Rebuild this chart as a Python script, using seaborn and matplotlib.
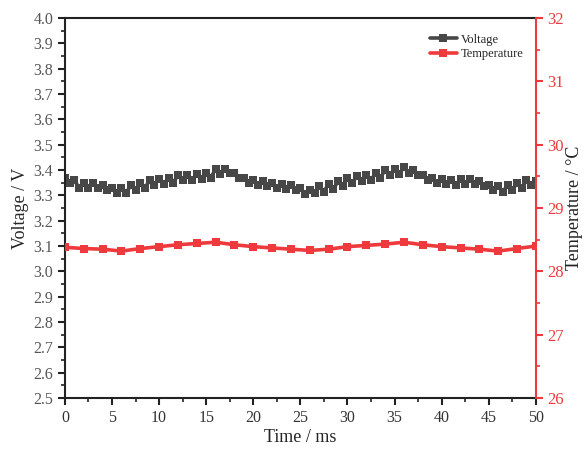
import numpy as np
import pandas as pd
import matplotlib
matplotlib.use("Agg")
import matplotlib.pyplot as plt
import seaborn as sns
from matplotlib.ticker import MultipleLocator

# Voltage sampled every 0.5 ms (0 .. 50 ms)
voltage_time = [i * 0.5 for i in range(101)]
voltage = [
    3.37, 3.35, 3.36, 3.33, 3.35, 3.33, 3.35, 3.33, 3.34, 3.32,
    3.33, 3.31, 3.33, 3.31, 3.34, 3.32, 3.35, 3.33, 3.36, 3.34,
    3.365, 3.345, 3.37, 3.35, 3.38, 3.36, 3.38, 3.36, 3.385, 3.365,
    3.39, 3.37, 3.405, 3.385, 3.405, 3.39, 3.39, 3.37, 3.37, 3.35,
    3.36, 3.34, 3.355, 3.335, 3.35, 3.33, 3.345, 3.325, 3.34, 3.32,
    3.33, 3.305, 3.32, 3.31, 3.335, 3.315, 3.345, 3.325, 3.355, 3.335,
    3.37, 3.35, 3.375, 3.355, 3.38, 3.36, 3.39, 3.37, 3.40, 3.38,
    3.405, 3.385, 3.41, 3.39, 3.40, 3.38, 3.38, 3.36, 3.37, 3.35,
    3.365, 3.345, 3.36, 3.34, 3.365, 3.345, 3.365, 3.345, 3.355, 3.335,
    3.34, 3.32, 3.335, 3.315, 3.34, 3.32, 3.35, 3.33, 3.36, 3.34,
    3.355,
]

# Temperature sampled every 2 ms
temp_time = list(range(0, 51, 2))
temperature = [
    28.38, 28.36, 28.35, 28.32, 28.36, 28.39, 28.42, 28.44, 28.46, 28.42,
    28.39, 28.37, 28.35, 28.33, 28.35, 28.39, 28.41, 28.43, 28.46, 28.42,
    28.39, 28.37, 28.35, 28.32, 28.36, 28.40,
]

v_df = pd.DataFrame({"time": voltage_time, "voltage": voltage})
t_df = pd.DataFrame({"time": temp_time, "temperature": temperature})

sns.set_theme(style="ticks")
plt.rcParams["font.family"] = ["Liberation Serif", "DejaVu Serif"]

dark = "#474747"
red = "#ee3a3c"

fig = plt.figure(figsize=(5.85, 4.51), dpi=100)
ax = fig.add_axes([0.111, 0.1175, 0.805, 0.8425])
ax2 = ax.twinx()

sns.lineplot(data=v_df, x="time", y="voltage", ax=ax, color=dark, lw=2.6,
             marker="s", markersize=5.5, markeredgewidth=0, label="Voltage",
             legend=False)
sns.lineplot(data=t_df, x="time", y="temperature", ax=ax2, color=red, lw=2.6,
             marker="s", markersize=6, markeredgewidth=0, label="Temperature",
             legend=False)

ax.set_xlim(0, 50)
ax.set_ylim(2.5, 4.0)
ax2.set_ylim(26, 32)

ax.xaxis.set_major_locator(MultipleLocator(5))
ax.xaxis.set_minor_locator(MultipleLocator(2.5))
ax.yaxis.set_major_locator(MultipleLocator(0.1))
ax.yaxis.set_minor_locator(MultipleLocator(0.05))
ax2.yaxis.set_major_locator(MultipleLocator(1))
ax2.yaxis.set_minor_locator(MultipleLocator(0.5))
ax.yaxis.set_major_formatter(matplotlib.ticker.FormatStrFormatter("%.1f"))

ax.set_xlabel("Time / ms", fontsize=13, labelpad=2)
ax.set_ylabel("Voltage / V", fontsize=13, labelpad=3)
ax2.set_ylabel("Temperature / °C", fontsize=13, labelpad=2)

for s in ["left", "bottom", "top"]:
    ax.spines[s].set_color("#222222")
    ax.spines[s].set_linewidth(1.5)
ax.spines["right"].set_visible(False)
for s in ["left", "bottom", "top"]:
    ax2.spines[s].set_visible(False)
ax2.spines["right"].set_color(red)
ax2.spines["right"].set_linewidth(1.5)

ax.tick_params(axis="both", which="major", direction="out", length=5, width=1.5,
               labelsize=11.5, colors="#222222", labelcolor="#555555")
ax.tick_params(axis="both", which="minor", direction="out", length=3, width=1.2,
               colors="#222222")
ax.tick_params(axis="x", labelcolor="#333333")
ax2.tick_params(axis="y", which="major", direction="out", length=5, width=1.5,
                labelsize=12, colors=red, pad=3)
ax2.tick_params(axis="y", which="minor", direction="out", length=3, width=1.2,
                colors=red)
ax2.yaxis.label.set_color("#222222")

h1, l1 = ax.get_legend_handles_labels()
h2, l2 = ax2.get_legend_handles_labels()
ax.legend(h1 + h2, l1 + l2, loc="upper right", frameon=False, fontsize=9,
          handlelength=2.2, handletextpad=0.3, borderaxespad=0.4,
          labelspacing=0.2, bbox_to_anchor=(0.995, 0.985))

fig.savefig("out.png", dpi=100)
